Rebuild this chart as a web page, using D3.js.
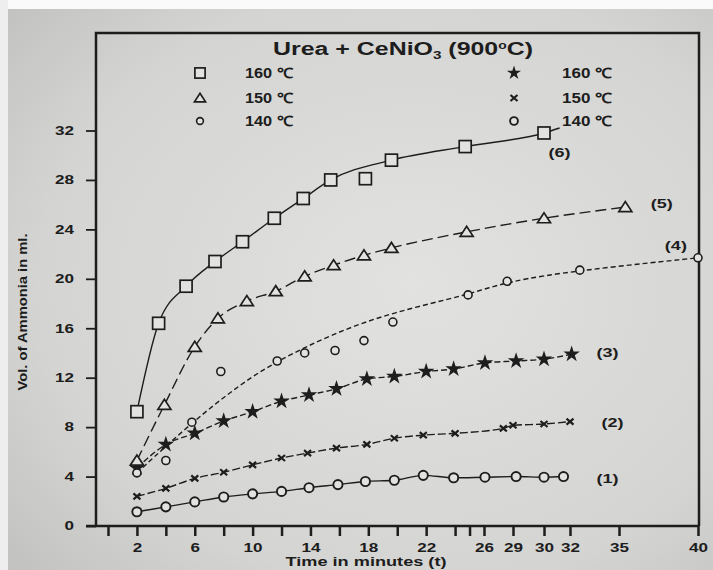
<html>
<head>
	<meta charset="utf-8">
	<title>Urea + CeNiO3 (900 C)</title>
	<style>
		body { margin: 0; background: #fff; }
		text { font-family: "Liberation Sans", Arial, sans-serif; font-weight: bold; fill: #1d1d1d; }
	</style>
</head>
<body>
	<script src="https://cdnjs.cloudflare.com/ajax/libs/d3/7.8.5/d3.min.js"></script>
	<script type="text/javascript">
		// axis ticks (the time axis is not evenly spaced after 26 min)
		var xTicks = [0, 2, 4, 6, 8, 10, 12, 14, 16, 18, 20, 22, 24, 25, 26, 29, 30, 32, 35, 40];
		var xTickLabels = [2, 6, 10, 14, 18, 22, 26, 29, 30, 32, 35, 40];
		var yTicks = [0, 4, 8, 12, 16, 20, 24, 28, 32];
		var legendLabels = ["160 \u2103", "150 \u2103", "140 \u2103"];

		// (6) squares
		var t6 = [2, 3.5, 5.4, 7.4, 9.3, 11.5, 13.5, 15.4, 17.8, 19.6, 24.7, 30];
		var v6 = [9.25, 16.4, 19.4, 21.4, 23.0, 24.9, 26.5, 28.0, 28.1, 29.6, 30.7, 31.8];
		var fitT6 = [2, 3.5, 5.4, 7.4, 9.3, 11.5, 13.5, 15.4, 19.6, 24.7, 30, 31.2];
		var fitV6 = [9.25, 16.4, 19.4, 21.4, 23.0, 24.9, 26.5, 28.0, 29.6, 30.7, 31.8, 32.2];
		// (5) triangles
		var t5 = [2, 3.9, 6, 7.6, 9.6, 11.6, 13.6, 15.6, 17.7, 19.6, 24.8, 30, 35.4];
		var v5 = [5.3, 9.8, 14.5, 16.8, 18.2, 19.0, 20.2, 21.1, 21.9, 22.5, 23.8, 24.9, 25.8];
		// (4) open circles, dashed fit
		var t4 = [2, 4, 5.8, 7.8, 11.7, 13.6, 15.7, 17.7, 19.7, 24.9, 28.4, 32.6, 40];
		var v4 = [4.3, 5.3, 8.4, 12.5, 13.35, 14.0, 14.2, 15.0, 16.5, 18.7, 19.8, 20.7, 21.7];
		var fitT4 = [2, 5.8, 9.3, 11.7, 15.6, 19.7, 24.9, 28.4, 32.6, 40];
		var fitV4 = [4.3, 8.4, 11.6, 13.35, 15.6, 17.3, 18.7, 19.8, 20.7, 21.7];
		// (3) stars
		var t3 = [2, 4, 6, 8, 10, 12, 13.9, 15.8, 17.9, 19.8, 22, 23.9, 26.1, 29.1, 30, 32.1];
		var v3 = [4.7, 6.6, 7.5, 8.5, 9.25, 10.1, 10.6, 11.1, 11.9, 12.1, 12.5, 12.7, 13.2, 13.35, 13.5, 13.9];
		// (2) crosses
		var t2 = [2, 4, 6, 8, 10, 12, 13.8, 15.8, 17.9, 19.8, 21.8, 24, 28, 29, 30, 32];
		var v2 = [2.4, 3.05, 3.85, 4.35, 4.95, 5.5, 5.9, 6.3, 6.6, 7.1, 7.35, 7.5, 7.9, 8.15, 8.25, 8.45];
		// (1) circles
		var t1 = [2, 4, 6, 8, 10, 12, 13.9, 15.9, 17.8, 19.8, 21.8, 23.9, 26.1, 29.1, 30, 31.5];
		var v1 = [1.15, 1.55, 1.95, 2.35, 2.6, 2.8, 3.1, 3.35, 3.6, 3.7, 4.1, 3.9, 3.95, 4.0, 3.95, 4.0];

		// curve number labels, placed in data units
		var curveNames = ["(1)", "(2)", "(3)", "(4)", "(5)", "(6)"];
		var curveNameT = [34.3, 34.6, 34.3, 38.6, 37.7, 31.2];
		var curveNameV = [3.9, 8.4, 14.1, 22.7, 26.1, 30.3];

		function zip(ts, vs){
			return ts.map(function(t, i){ return [t, vs[i]]; });
		}

		function drawChart(){
			var W = 713, H = 570;
			var ink = "#1d1d1d", paper = "#e2e2e0";
			var svg = d3.select("body").append("svg")
						.attr("width", W)
						.attr("height", H);

			var grad = svg.append("defs").append("radialGradient")
						.attr("id", "paper")
						.attr("cx", "58%").attr("cy", "50%").attr("r", "75%");
			grad.append("stop").attr("offset", "0%").attr("stop-color", "#e2e2e0");
			grad.append("stop").attr("offset", "70%").attr("stop-color", "#d4d4d2");
			grad.append("stop").attr("offset", "100%").attr("stop-color", "#c2c2c0");

			svg.append("rect").attr("width", W).attr("height", H).style("fill", "url(#paper)");
			svg.append("rect").attr("width", W).attr("height", 9).style("fill", "#fafafa");
			svg.append("rect").attr("width", 8).attr("height", H).style("fill", "#eeeeee");

			var x = d3.scaleLinear()
						.domain([0, 26, 29, 30, 32, 35, 40])
						.range([108, 484, 513, 544, 570, 619, 698]);
			var y = d3.scaleLinear().domain([0, 32]).range([526, 130.5]);

			var left = 96, right = 699, top = 33, bottom = y(0);

			// frame
			svg.append("path")
				.attr("d", "M" + [left, bottom] + " L" + [left, top] + " L" + [right, top] + " L" + [right, bottom])
				.style("fill", "none")
				.style("stroke", ink)
				.style("stroke-width", "2.5px");

			// x axis
			var xAxis = svg.append("g")
						.attr("transform", "translate(0," + bottom + ")")
						.call(d3.axisBottom(x)
							.tickValues(xTicks)
							.tickSize(10)
							.tickPadding(7)
							.tickFormat(function(d){ return xTickLabels.indexOf(d) >= 0 ? d : ""; }));
			xAxis.select(".domain").remove();
			xAxis.selectAll(".tick line").style("stroke", ink).style("stroke-width", "2.5px");
			xAxis.selectAll(".tick text")
				.style("font-size", "12px")
				.attr("textLength", function(d){ return xTickLabels.indexOf(d) >= 0 ? String(d).length * 9.5 : null; })
				.attr("lengthAdjust", "spacingAndGlyphs");
			svg.append("line")
				.attr("x1", 86).attr("x2", right)
				.attr("y1", bottom).attr("y2", bottom)
				.style("stroke", ink)
				.style("stroke-width", "2.5px");

			// y axis
			var yAxis = svg.append("g")
						.attr("transform", "translate(" + left + ",0)")
						.call(d3.axisLeft(y).tickValues(yTicks).tickSize(10).tickPadding(12));
			yAxis.select(".domain").remove();
			yAxis.selectAll(".tick line").style("stroke", ink).style("stroke-width", "1.8px");
			yAxis.selectAll(".tick text")
				.style("font-size", "12px")
				.attr("textLength", function(d){ return String(d).length * 9.5; })
				.attr("lengthAdjust", "spacingAndGlyphs");

			svg.append("text")
				.attr("transform", "translate(27,312) rotate(-90)")
				.attr("text-anchor", "middle")
				.attr("textLength", 157)
				.attr("lengthAdjust", "spacingAndGlyphs")
				.style("font-size", "12px")
				.text("Vol. of Ammonia in ml.");

			svg.append("text")
				.attr("x", 366).attr("y", 566)
				.attr("text-anchor", "middle")
				.attr("textLength", 161)
				.attr("lengthAdjust", "spacingAndGlyphs")
				.style("font-size", "13px")
				.text("Time in minutes (t)");

			// title
			var title = svg.append("text")
						.attr("x", 403).attr("y", 55)
						.attr("text-anchor", "middle")
						.attr("textLength", 260)
						.attr("lengthAdjust", "spacingAndGlyphs")
						.style("font-size", "18px");
			title.append("tspan").text("Urea + CeNiO");
			title.append("tspan").attr("dy", 4).style("font-size", "11px").text("3");
			title.append("tspan").attr("dy", -4).text(" (900");
			title.append("tspan").attr("dy", -6).style("font-size", "10px").text("o");
			title.append("tspan").attr("dy", 6).text("C)");

			// markers
			function marker(g, kind, px, py, big){
				var s = big ? 1 : 0.85;
				if(kind === "square"){
					g.append("rect")
						.attr("x", px - 6 * s).attr("y", py - 6 * s)
						.attr("width", 12 * s).attr("height", 12 * s)
						.style("fill", paper).style("stroke", ink).style("stroke-width", "1.7px");
				}else if(kind === "triangle"){
					g.append("path")
						.attr("d", "M" + [px - 6.5 * s, py + 4.5 * s] + " L" + [px + 6.5 * s, py + 4.5 * s] + " L" + [px, py - 5.5 * s] + " Z")
						.style("fill", paper).style("stroke", ink).style("stroke-width", "1.7px");
				}else if(kind === "ring"){
					g.append("circle")
						.attr("cx", px).attr("cy", py).attr("r", 4 * s)
						.style("fill", paper).style("stroke", ink).style("stroke-width", "1.6px");
				}else if(kind === "star"){
					g.append("path")
						.attr("transform", "translate(" + px + "," + py + ")")
						.attr("d", d3.symbol(d3.symbolStar, 85 * s * s)())
						.style("fill", ink);
				}else if(kind === "cross"){
					g.append("path")
						.attr("d", "M" + [px - 3.5, py - 3] + " L" + [px + 3.5, py + 3] + " M" + [px - 3.5, py + 3] + " L" + [px + 3.5, py - 3])
						.style("stroke", ink).style("stroke-width", "2.2px");
				}else if(kind === "circle"){
					g.append("circle")
						.attr("cx", px).attr("cy", py).attr("r", 4.6 * s)
						.style("fill", paper).style("stroke", ink).style("stroke-width", "1.9px");
				}
			}

			var series = [
				{ pts: zip(t1, v1), fit: zip(t1, v1), dash: null, kind: "circle", curve: d3.curveMonotoneX },
				{ pts: zip(t2, v2), fit: zip(t2, v2), dash: "8,3", kind: "cross", curve: d3.curveMonotoneX },
				{ pts: zip(t3, v3), fit: zip(t3, v3), dash: "6,3", kind: "star", curve: d3.curveMonotoneX },
				{ pts: zip(t4, v4), fit: zip(fitT4, fitV4), dash: "5,3", kind: "ring", curve: d3.curveBasis },
				{ pts: zip(t5, v5), fit: zip(t5, v5), dash: "11,5", kind: "triangle", curve: d3.curveMonotoneX },
				{ pts: zip(t6, v6), fit: zip(fitT6, fitV6), dash: null, kind: "square", curve: d3.curveMonotoneX }
			];

			var plot = svg.append("g");
			series.forEach(function(s){
				var line = d3.line()
							.x(function(d){ return x(d[0]); })
							.y(function(d){ return y(d[1]); })
							.curve(s.curve);
				plot.append("path")
					.attr("d", line(s.fit))
					.style("fill", "none")
					.style("stroke", ink)
					.style("stroke-width", "1.4px")
					.style("stroke-dasharray", s.dash);
			});
			series.forEach(function(s){
				s.pts.forEach(function(p){ marker(plot, s.kind, x(p[0]), y(p[1]), true); });
			});

			curveNames.forEach(function(n, i){
				svg.append("text")
					.attr("x", x(curveNameT[i])).attr("y", y(curveNameV[i]) + 5)
					.attr("text-anchor", "middle")
					.attr("textLength", 22)
					.attr("lengthAdjust", "spacingAndGlyphs")
					.style("font-size", "13px")
					.text(n);
			});

			// legend
			var rows = [73, 98, 121];
			var leftKinds = ["square", "triangle", "ring"];
			var rightKinds = ["star", "cross", "circle"];
			var lg = svg.append("g");
			legendLabels.forEach(function(lab, i){
				marker(lg, leftKinds[i], 200, rows[i], false);
				marker(lg, rightKinds[i], 514, rows[i], false);
				lg.append("text").attr("x", 245).attr("y", rows[i] + 5)
					.attr("textLength", 48).attr("lengthAdjust", "spacingAndGlyphs")
					.style("font-size", "14px").text(lab);
				lg.append("text").attr("x", 562).attr("y", rows[i] + 5)
					.attr("textLength", 50).attr("lengthAdjust", "spacingAndGlyphs")
					.style("font-size", "14px").text(lab);
			});
		}
		drawChart();
	</script>
</body>
</html>
